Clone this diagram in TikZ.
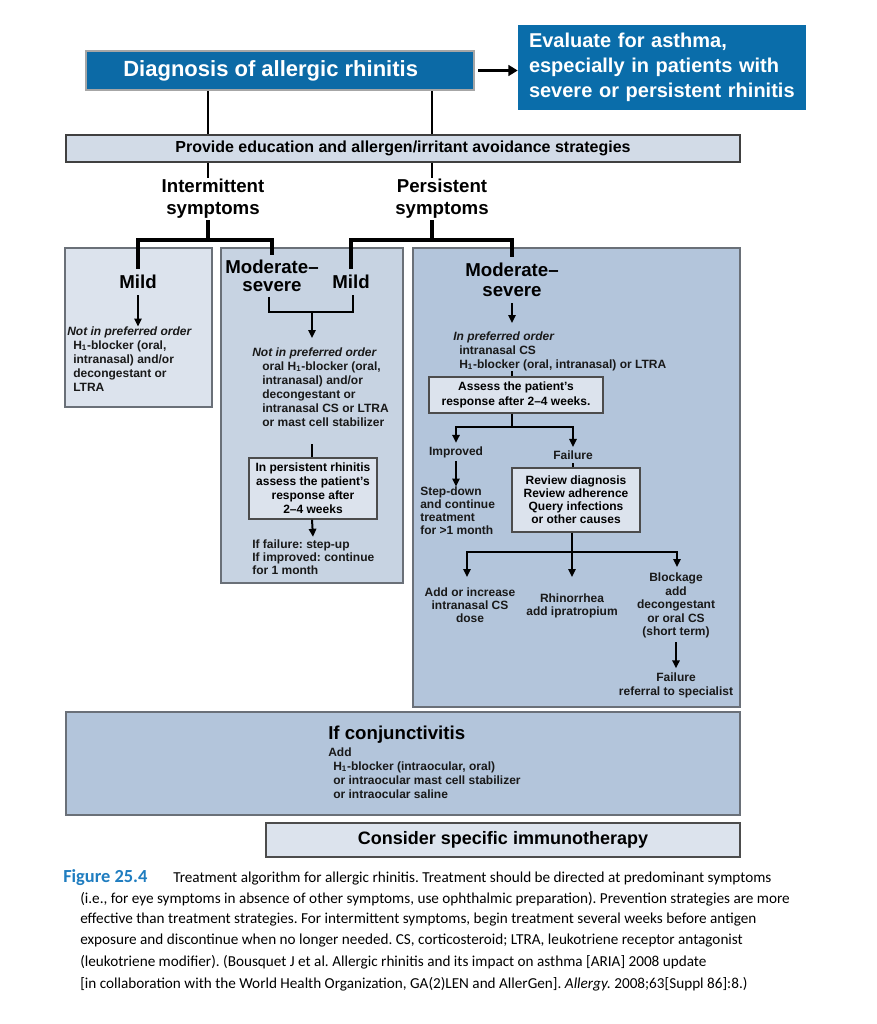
\documentclass[tikz,border=0pt]{standalone}
\usepackage{fontspec}
\setmainfont{Liberation Sans}
\newfontfamily\capfont{Carlito}
\usetikzlibrary{arrows.meta}
\definecolor{dblue}{HTML}{0C6AA6}
\definecolor{eblue}{HTML}{0A6DAA}
\definecolor{lightbox}{HTML}{DCE3ED}
\definecolor{edubox}{HTML}{D2DBE7}
\definecolor{midbox}{HTML}{C7D3E2}
\definecolor{darkbox}{HTML}{B3C5DB}
\definecolor{bordergray}{HTML}{6A7078}
\definecolor{capblue}{HTML}{1F7DC0}
\newcommand\myfs[2]{\fontsize{#1}{#2}\selectfont}
\frenchspacing
\begin{document}
\begin{tikzpicture}[x=0.75pt,y=-0.75pt,
  panel/.style={draw=bordergray, line width=0.9pt, inner sep=0pt},
  inbox/.style={draw=black!70, line width=0.9pt, fill=lightbox, align=center, font=\bfseries\myfs{9}{10.5}, inner sep=0pt},
  sm/.style={font=\bfseries\myfs{9}{10.5}, inner sep=0pt, text=black!90},
  big/.style={font=\bfseries\myfs{14}{13.5}, align=center, inner sep=4.5pt},
  arr/.style={-{Triangle[length=6pt,width=5.5pt]}, line width=1.5pt},
  ln/.style={line width=1.5pt},
  brk/.style={line width=3pt},
]
\useasboundingbox[fill=white] (0,0) rectangle (877,1024);

% panels
\node[panel, fill=lightbox, minimum width=110.25pt, minimum height=119.25pt] (boxA) at (138.5,327.5) {};
\node[panel, fill=midbox, minimum width=136.5pt, minimum height=251.25pt] (boxB) at (312,415.5) {};
\node[panel, fill=darkbox, minimum width=245.25pt, minimum height=344.25pt] (boxC) at (576.5,477.5) {};

% top
\node[draw=gray!70, line width=2.2pt, fill=dblue, minimum width=291pt, minimum height=29.25pt, text=white, font=\bfseries\myfs{16.5}{18}] (diag) at (280,70.5) {Diagnosis of allergic rhinitis\hspace*{14pt}};
\node[fill=eblue, minimum width=216pt, minimum height=63.75pt, text width=199.5pt, align=left, inner xsep=8.25pt, text=white, font=\bfseries\myfs{15}{18.75}] (eval) at (662,67.5) {Evaluate for asthma,\\especially in patients with\\severe or persistent rhinitis};
\draw[-{Triangle[length=7pt,width=8pt]}, line width=2.4pt, shorten <=2pt] (diag.east) -- (diag.east -| eval.west);

\node[draw=black!75, line width=1.1pt, fill=edubox, minimum width=505.5pt, minimum height=20.25pt, font=\bfseries\myfs{12}{14}] (edu) at (403,148.5) {Provide education and allergen/irritant avoidance strategies};

\node[font=\bfseries\myfs{14}{16.5}, align=center, inner sep=1pt] (int) at (213,199) {Intermittent\\symptoms};
\node[font=\bfseries\myfs{14}{16.5}, align=center, inner sep=1pt] (pers) at (442,199) {Persistent\\symptoms};

\coordinate (iJ) at (208,240);
\coordinate (pJ) at (432,240);
\draw[ln] (diag.south -| iJ) -- (edu.north -| iJ);
\draw[ln] (diag.south -| pJ) -- (edu.north -| pJ);
\draw[ln] (edu.south -| iJ) -- (int.north -| iJ);
\draw[ln] (edu.south -| pJ) -- (pers.north -| pJ);

% level labels
\node[big] (mildA) at (138,282) {Mild};
\node[big, inner sep=3.5pt] (modB) at (272,276) {Moderate–\\severe};
\node[big] (mildB) at (351,282) {Mild};
\node[big, font=\bfseries\myfs{14}{15}] (modC) at (512,280) {Moderate–\\severe};

\draw[brk] (int.south -| iJ) -- (iJ);
\draw[brk] (pers.south -| pJ) -- (pJ);
\draw[brk] (mildA.north) |- (iJ) -| (modB.north);
\draw[brk] (mildB.north) |- (pJ) -| (modC.north);

% box A
\node[sm, anchor=north west, align=left] (txA) at (67,326.5) {\textit{Not in preferred order}\\\hspace*{4.5pt}H\textsubscript{1}-blocker (oral,\\\hspace*{4.5pt}intranasal) and/or\\\hspace*{4.5pt}decongestant or\\\hspace*{4.5pt}LTRA};
\draw[arr] (mildA.south) -- (mildA.south |- txA.north);

% box B
\coordinate (bjB) at (312,312);
\coordinate (bB2) at (312,338);
\draw[ln] (modB.south -| 269,0) |- (bjB) -| (mildB.south -| 353,0);
\draw[arr] (bjB) -- (bB2);
\node[sm, anchor=north west, align=left] (txB) at (252,347.5) {\textit{Not in preferred order}\\\hspace*{7.5pt}oral H\textsubscript{1}-blocker (oral,\\\hspace*{7.5pt}intranasal) and/or\\\hspace*{7.5pt}decongestant or\\\hspace*{7.5pt}intranasal CS or LTRA\\\hspace*{7.5pt}or mast cell stabilizer};
\node[inbox, minimum width=96pt, minimum height=45.75pt] (assB) at (313,488.5) {In persistent rhinitis\\assess the patient’s\\response after\\2–4 weeks};
\coordinate (cB1) at (312,444);
\draw[ln] (cB1) -- (cB1 |- assB.north);
\node[sm, anchor=north west, align=left, font=\bfseries\myfs{9}{9.75}] (resB) at (252,539.5) {If failure: step-up\\If improved: continue\\for 1 month};
\draw[arr] (assB.south -| cB1) -- ([yshift=2pt]assB.south |- resB.north);

% box C
\node[sm, anchor=north west, align=left] (prefC) at (453,331.5) {\textit{In preferred order}\\\hspace*{4.5pt}intranasal CS\\\hspace*{4.5pt}H\textsubscript{1}-blocker (oral, intranasal) or LTRA};
\coordinate (cC1) at (512,323);
\draw[arr] (modC.south) -- (cC1);
\node[inbox, minimum width=130.5pt, minimum height=27pt, font=\bfseries\myfs{9}{11.25}] (assC) at (516,395) {Assess the patient’s\\response after 2–4 weeks.};
\coordinate (cC2) at (512,371);
\draw[ln] (cC2) -- (cC2 |- assC.north);
\coordinate (jC) at (512,427);
\draw[ln] (assC.south -| jC) -- (jC);
\node[sm, inner sep=2.5pt] (imp) at (456,452) {Improved};
\node[sm, inner sep=2.5pt] (fail) at (573,455) {Failure};
\draw[arr] (jC) -| (imp.north);
\draw[arr] (jC) -| (fail.north);
\node[sm, anchor=north west, align=left, font=\bfseries\myfs{9}{9.75}] (stepC) at (420,486.5) {Step-down\\and continue\\treatment\\for >1 month};
\draw[arr] (imp.south) -- (imp.south |- stepC.north);
\node[inbox, minimum width=96pt, minimum height=48pt, font=\bfseries\myfs{9}{9.75}] (rev) at (576,500) {Review diagnosis\\Review adherence\\Query infections\\or other causes};
\draw[ln] (fail.south) -- (fail.south |- rev.north);
\coordinate (jR) at (572,552);
\draw[ln] (rev.south -| jR) -- (jR);
\coordinate (aL) at (467,577);
\coordinate (aM) at (572,577);
\coordinate (aR) at (677,567);
\draw[arr] (jR) -| (aL);
\draw[arr] (jR) -- (aM);
\draw[arr] (jR) -| (aR);
\node[sm, align=center, font=\bfseries\myfs{9}{9.75}] (addC) at (470,605) {Add or increase\\intranasal CS\\dose};
\node[sm, align=center, font=\bfseries\myfs{9}{9.75}] (rhinC) at (572,605.5) {Rhinorrhea\\add ipratropium};
\node[sm, align=center, font=\bfseries\myfs{9}{10.1}, inner sep=3pt] (blockC) at (676,605.5) {Blockage\\add\\decongestant\\or oral CS\\(short term)};
\node[sm, align=center, font=\bfseries\myfs{9}{11}, inner sep=3pt] (failC) at (676,685.5) {Failure\\referral to specialist};
\draw[arr] (blockC.south) -- (failC.north);

% conjunctivitis
\node[panel, fill=darkbox, minimum width=505.5pt, minimum height=77.25pt] (conj) at (403,763.5) {};
\node[font=\bfseries\myfs{14}{16}, anchor=west, inner sep=0pt] (conjT) at (328,735) {If conjunctivitis};
\node[sm, anchor=north west, align=left] (conjX) at (328,747.5) {Add\\\hspace*{3.75pt}H\textsubscript{1}-blocker (intraocular, oral)\\\hspace*{3.75pt}or intraocular mast cell stabilizer\\\hspace*{3.75pt}or intraocular saline};

\node[draw=black!70, line width=1pt, fill=lightbox, minimum width=355.5pt, minimum height=25.5pt, font=\bfseries\myfs{13.5}{16}] (imm) at (503,840) {Consider specific immunotherapy};

% caption
\begin{scope}[every node/.style={anchor=west, inner sep=0pt, font=\capfont\myfs{11.4}{13}}]
\node (cap1) at (63,878) {\textcolor{capblue}{\bfseries\myfs{13.8}{15}Figure 25.4}\hspace{1.7em}Treatment algorithm for allergic rhinitis. Treatment should be directed at predominant symptoms};
\node (cap2) at (80,899) {(i.e., for eye symptoms in absence of other symptoms, use ophthalmic preparation). Prevention strategies are more};
\node (cap3) at (80,920) {effective than treatment strategies. For intermittent symptoms, begin treatment several weeks before antigen};
\node (cap4) at (80,941) {exposure and discontinue when no longer needed. CS, corticosteroid; LTRA, leukotriene receptor antagonist};
\node (cap5) at (80,962) {(leukotriene modifier). (Bousquet J et al. Allergic rhinitis and its impact on asthma [ARIA] 2008 update};
\node (cap6) at (80,984) {[in collaboration with the World Health Organization, GA(2)LEN and AllerGen]. \textit{Allergy.} 2008;63[Suppl 86]:8.)};
\end{scope}
\end{tikzpicture}
\end{document}
